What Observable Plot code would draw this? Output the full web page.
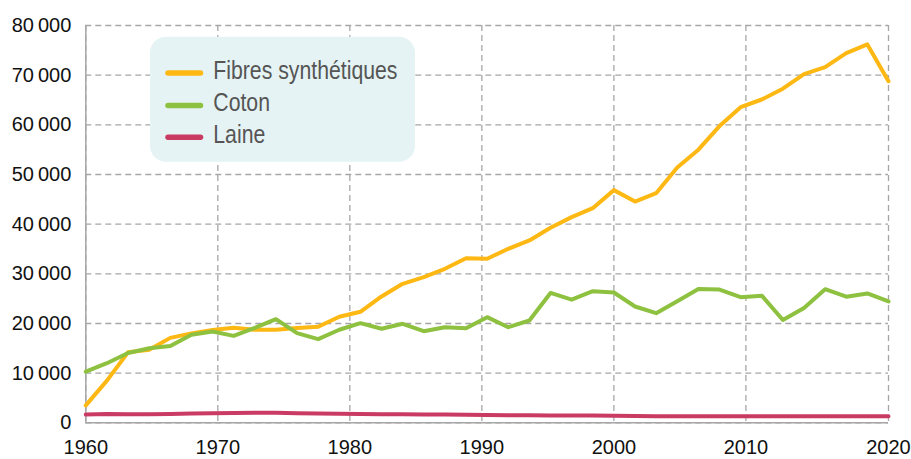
<!DOCTYPE html>
<html>
<head>
<meta charset="utf-8">
<script src="https://cdn.jsdelivr.net/npm/d3@7"></script>
<script src="https://cdn.jsdelivr.net/npm/@observablehq/plot@0.6"></script>
<style>
  html, body { margin: 0; padding: 0; background: #fff; }
  #wrap { position: relative; width: 911px; height: 459px; overflow: hidden; }
  #legend { position: absolute; left: 0; top: 0; pointer-events: none; }
</style>
</head>
<body>
<div id="wrap"></div>
<script>
// 39 observations, evenly spaced along the time axis (index 0 = 1960, index 38 = 2020)
const pointIndex = [0,1,2,3,4,5,6,7,8,9,10,11,12,13,14,15,16,17,18,19,20,21,22,23,24,25,26,27,28,29,30,31,32,33,34,35,36,37,38];

const synthetiques = [3500, 8500, 14200, 14700, 17100, 18000, 18700, 19130, 18730, 18730, 19100, 19330, 21350, 22350, 25440, 27990, 29330, 31010, 33150, 33030, 35040, 36720, 39270, 41410, 43220, 46850, 44540, 46240, 51400, 55000, 59750, 63560, 65100, 67270, 70200, 71620, 74440, 76190, 68780];
const coton = [10300, 12000, 14050, 15000, 15450, 17750, 18400, 17500, 19100, 20870, 18050, 16840, 18730, 20060, 18930, 19940, 18450, 19250, 19050, 21270, 19250, 20600, 26150, 24800, 26500, 26240, 23420, 22080, 24490, 26950, 26820, 25300, 25600, 20700, 23120, 26910, 25400, 26050, 24430];
const laine = [1650, 1750, 1700, 1700, 1750, 1850, 1900, 1950, 2000, 2000, 1900, 1850, 1800, 1750, 1700, 1700, 1650, 1650, 1600, 1550, 1500, 1500, 1450, 1450, 1450, 1400, 1350, 1300, 1300, 1300, 1300, 1300, 1300, 1300, 1300, 1300, 1300, 1300, 1300];

const seriesNames = ["Fibres synthétiques", "Coton", "Laine"];
const seriesColors = ["#FDB813", "#8DC13F", "#C93B63"];

// x tick positions (in observation index) and their labels
const xTickPos = [0, 6.25, 12.5, 18.75, 25, 31.25, 38];
const xTickLabels = ["1960", "1970", "1980", "1990", "2000", "2010", "2020"];
const yTicks = [0, 10000, 20000, 30000, 40000, 50000, 60000, 70000, 80000];

const seriesValues = [synthetiques, coton, laine];
const rows = seriesNames.map((name, s) => pointIndex.map((i) => ({ i, v: seriesValues[s][i], name })));

const fmt = (d) => d3.format(",")(d).replace(/,/g, "\u2009");
const labelOf = new Map(xTickPos.map((p, k) => [p, xTickLabels[k]]));
const gridColor = "#A6A6A6";

const chart = Plot.plot({
  width: 911,
  height: 459,
  marginLeft: 85.3,
  marginRight: 23,
  marginTop: 25,
  marginBottom: 36.7,
  style: { fontFamily: "'Liberation Sans', Arial, sans-serif", fontSize: "20px", color: "#111", background: "#fff" },
  x: { domain: [0, 38], ticks: xTickPos, tickFormat: (d) => labelOf.get(d), tickSize: 0, tickPadding: 17, label: null },
  y: { domain: [0, 80000], ticks: yTicks, tickFormat: fmt, tickSize: 0, tickPadding: 14.5, label: null },
  marks: [
    Plot.gridX(xTickPos, { stroke: gridColor, strokeOpacity: 1, strokeWidth: 1.3, strokeDasharray: "6,4" }),
    Plot.gridY(yTicks, { stroke: gridColor, strokeOpacity: 1, strokeWidth: 1.3, strokeDasharray: "6,4" }),
    Plot.ruleX([0], { stroke: gridColor, strokeWidth: 1.5 }),
    Plot.ruleY([0], { stroke: gridColor, strokeWidth: 1.5 }),
    Plot.axisX({ ticks: xTickPos, tickFormat: (d) => labelOf.get(d), tickSize: 0, tickPadding: 17, fill: "#111" }),
    Plot.axisY({ ticks: yTicks, tickFormat: fmt, tickSize: 0, tickPadding: 14.5, fill: "#111" }),
    Plot.line(rows[0], { x: "i", y: "v", stroke: seriesColors[0], strokeWidth: 4, strokeLinejoin: "round" }),
    Plot.line(rows[1], { x: "i", y: "v", stroke: seriesColors[1], strokeWidth: 4, strokeLinejoin: "round" }),
    Plot.line(rows[2], { x: "i", y: "v", stroke: seriesColors[2], strokeWidth: 4, strokeLinejoin: "round" })
  ]
});

const wrap = document.getElementById("wrap");
wrap.appendChild(chart);

// Legend overlay (inside the plot area, top-left)
const ns = "http://www.w3.org/2000/svg";
const lg = document.createElementNS(ns, "svg");
lg.setAttribute("id", "legend");
lg.setAttribute("width", 911);
lg.setAttribute("height", 459);
const bg = document.createElementNS(ns, "rect");
bg.setAttribute("x", 150); bg.setAttribute("y", 36.7);
bg.setAttribute("width", 265); bg.setAttribute("height", 125);
bg.setAttribute("rx", 16); bg.setAttribute("fill", "#E5F3F4");
lg.appendChild(bg);
const rowY = [73, 105.5, 137.3];
seriesNames.forEach((name, k) => {
  const ln = document.createElementNS(ns, "line");
  ln.setAttribute("x1", 168); ln.setAttribute("x2", 200.5);
  ln.setAttribute("y1", rowY[k]); ln.setAttribute("y2", rowY[k]);
  ln.setAttribute("stroke", seriesColors[k]); ln.setAttribute("stroke-width", 5.5);
  ln.setAttribute("stroke-linecap", "round");
  lg.appendChild(ln);
  const tx = document.createElementNS(ns, "text");
  tx.setAttribute("x", 0); tx.setAttribute("y", 0);
  tx.setAttribute("transform", `translate(213.3,${rowY[k] + 5.5}) scale(0.85,1)`);
  tx.setAttribute("fill", "#555");
  tx.setAttribute("font-family", "'Liberation Sans', Arial, sans-serif");
  tx.setAttribute("font-size", 25);
  tx.textContent = name;
  lg.appendChild(tx);
});
wrap.appendChild(lg);
</script>
</body>
</html>
